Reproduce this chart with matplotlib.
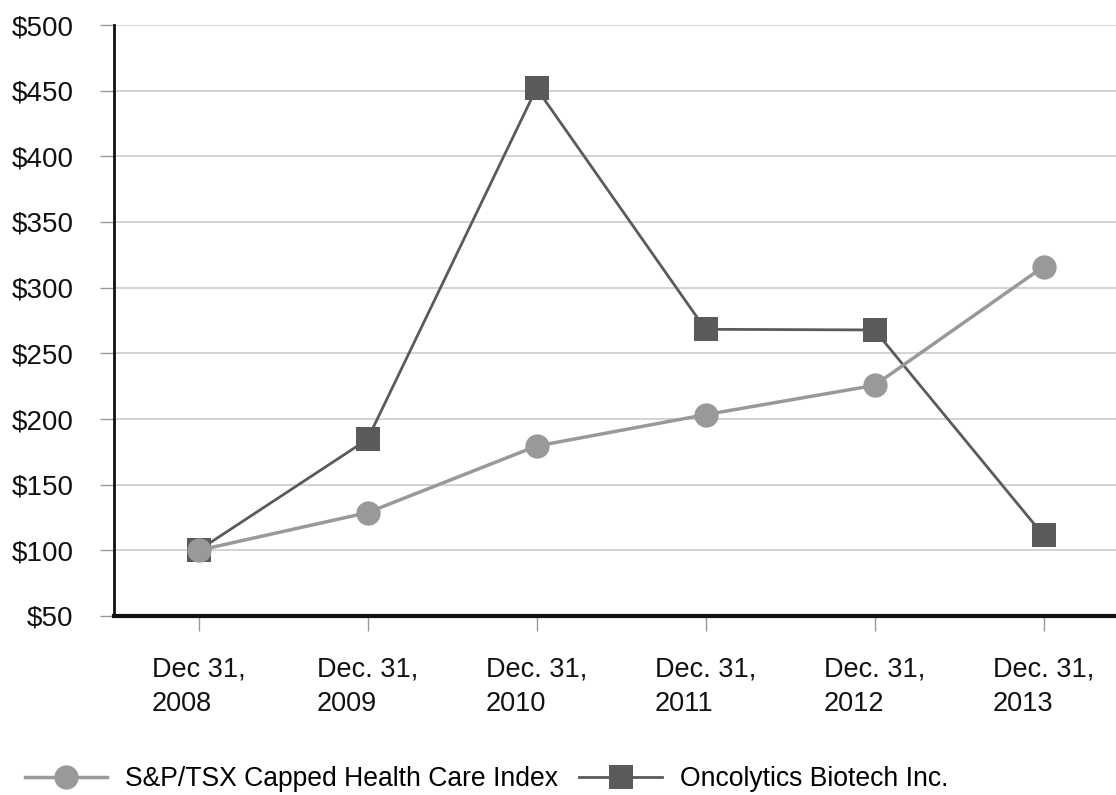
import matplotlib
matplotlib.use("Agg")
import matplotlib.pyplot as plt

# values
dates = ["Dec 31,\n2008", "Dec. 31,\n2009", "Dec. 31,\n2010",
         "Dec. 31,\n2011", "Dec. 31,\n2012", "Dec. 31,\n2013"]
index_values = [100, 128.7, 179.4, 203.3, 225.6, 316]
oncolytics_values = [100, 184.5, 451.8, 268.3, 267.8, 111.4]
y_ticks = [50, 100, 150, 200, 250, 300, 350, 400, 450, 500]

plt.rcParams['font.family'] = ['Liberation Sans', 'DejaVu Sans']

W, H = 1116, 795
fig = plt.figure(figsize=(W / 100, H / 100), dpi=100)
# axes box in pixels: left 114, right 1128 (runs past the picture), top 25, bottom 616
ax = fig.add_axes([114 / W, (H - 616) / H, (1128 - 114) / W, (616 - 25) / H])

x = list(range(len(dates)))

#Oncolytics line drawn first so the index line sits on top of it
ax.plot(x, oncolytics_values, color='#5a5a5a', linewidth=2, marker='s',
        markersize=17, markeredgewidth=0, label='Oncolytics Biotech Inc.', zorder=3)
ax.plot(x, index_values, color='#999999', linewidth=2.5, marker='o',
        markersize=17.5, markeredgewidth=0, label='S&P/TSX Capped Health Care Index', zorder=4)

ax.set_xlim(-0.5, 5.5)
ax.set_ylim(50, 500)
ax.set_yticks(y_ticks)
ax.set_yticklabels([f"${v}" for v in y_ticks], fontsize=20, color='#111111')
ax.set_xticks(x)
ax.set_xticklabels(dates, fontsize=19.5, color='#111111', multialignment='left',
                   linespacing=1.4)

# grid and axis lines
ax.grid(axis='y', color='#cccccc', linewidth=1.2)
ax.set_axisbelow(True)
for side in ['top', 'right']:
    ax.spines[side].set_visible(False)
ax.spines['left'].set_linewidth(2)
ax.spines['left'].set_color('#111111')
ax.spines['bottom'].set_linewidth(3)
ax.spines['bottom'].set_color('#111111')
ax.tick_params(axis='y', length=10.4, width=1, color='#999999', pad=18.7)
ax.tick_params(axis='x', length=10.8, width=1, color='#999999', pad=18.5)

# legend order: index first, then Oncolytics
handles, labels = ax.get_legend_handles_labels()
fig.legend(handles[::-1], labels[::-1], loc='center left',
           bbox_to_anchor=(25 / W, (H - 779) / H), ncol=2, frameon=False,
           fontsize=19.1, handlelength=3.1, handletextpad=0.68, columnspacing=0.8,
           borderpad=0, borderaxespad=0)

fig.savefig("out.png", dpi=100)
